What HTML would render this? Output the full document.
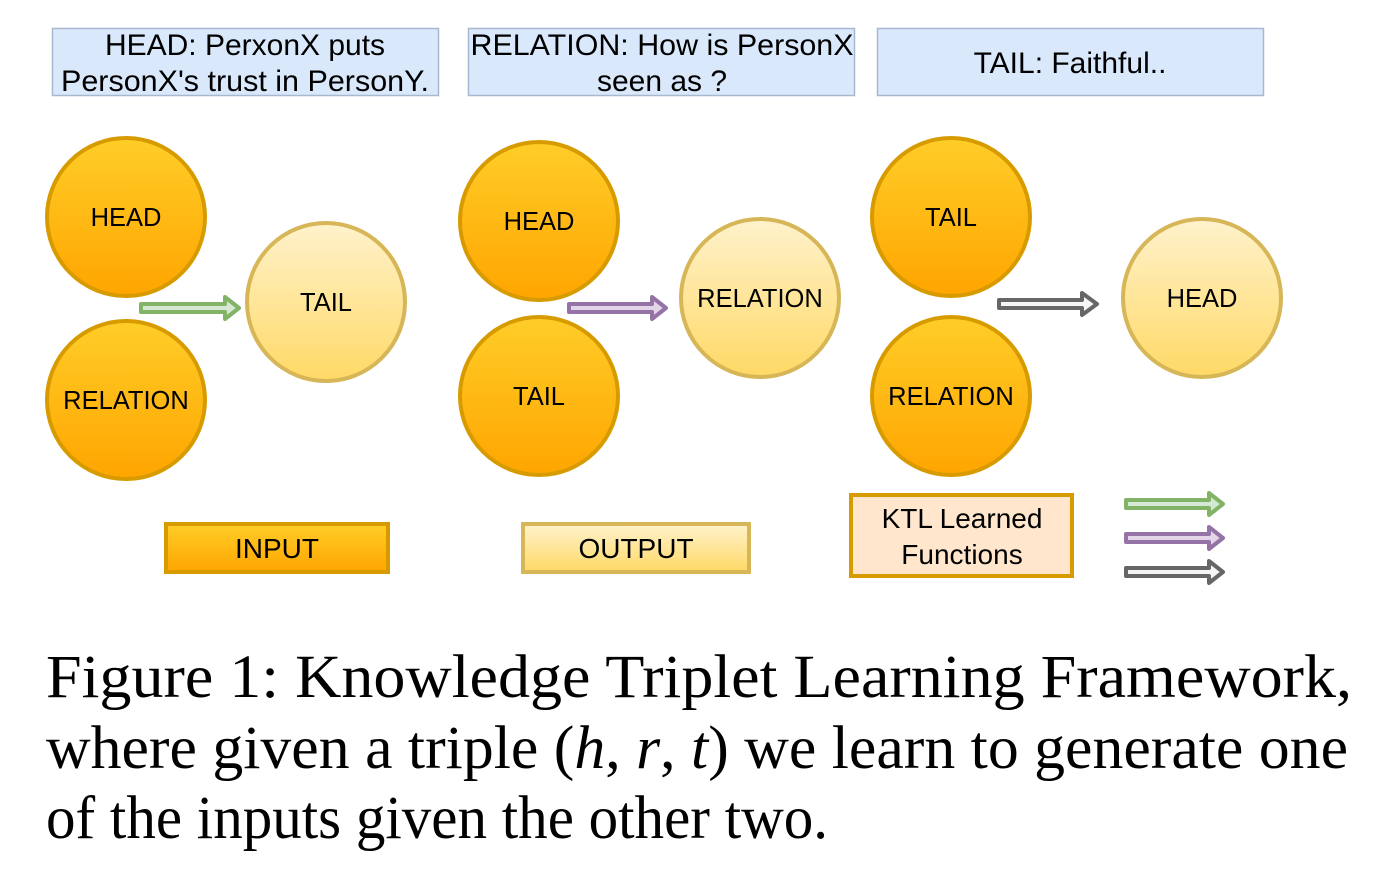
<!DOCTYPE html>
<html><head><meta charset="utf-8"><style>
html,body{margin:0;padding:0;background:#fff;}
svg{display:block;}
</style></head><body>
<svg width="1398" height="888" viewBox="0 0 1398 888" xmlns="http://www.w3.org/2000/svg">
<defs>
<linearGradient id="og" x1="0" y1="0" x2="0" y2="1"><stop offset="0" stop-color="#ffcd28"/><stop offset="1" stop-color="#ffa500"/></linearGradient>
<linearGradient id="lg" x1="0" y1="0" x2="0" y2="1"><stop offset="0" stop-color="#fff2cc"/><stop offset="1" stop-color="#ffd966"/></linearGradient>
</defs>
<g font-family="Liberation Sans, sans-serif" fill="#000">
<rect x="52.5" y="28.5" width="386" height="67" fill="#dae8fc" stroke="#a8b8cf" stroke-width="1.5"/>
<rect x="468.5" y="28.5" width="386" height="67" fill="#dae8fc" stroke="#a8b8cf" stroke-width="1.5"/>
<rect x="877.5" y="28.5" width="386" height="67" fill="#dae8fc" stroke="#a8b8cf" stroke-width="1.5"/>
<g font-size="30" text-anchor="middle">
<text x="245" y="55">HEAD: PerxonX puts</text>
<text x="245" y="91" textLength="368" lengthAdjust="spacingAndGlyphs">PersonX's trust in PersonY.</text>
<text x="662" y="55" textLength="383" lengthAdjust="spacingAndGlyphs">RELATION: How is PersonX</text>
<text x="662" y="91">seen as ?</text>
<text x="1070" y="73">TAIL: Faithful..</text>
</g>
<g stroke-width="4">
<circle cx="126" cy="217" r="79" fill="url(#og)" stroke="#d79b00"/>
<circle cx="126" cy="400" r="79" fill="url(#og)" stroke="#d79b00"/>
<circle cx="326" cy="302" r="79" fill="url(#lg)" stroke="#d6b656"/>
<circle cx="539" cy="221" r="79" fill="url(#og)" stroke="#d79b00"/>
<circle cx="539" cy="396" r="79" fill="url(#og)" stroke="#d79b00"/>
<circle cx="760" cy="298" r="79" fill="url(#lg)" stroke="#d6b656"/>
<circle cx="951" cy="217" r="79" fill="url(#og)" stroke="#d79b00"/>
<circle cx="951" cy="396" r="79" fill="url(#og)" stroke="#d79b00"/>
<circle cx="1202" cy="298" r="79" fill="url(#lg)" stroke="#d6b656"/>
</g>
<g font-size="25.5" text-anchor="middle">
<text x="126" y="226">HEAD</text>
<text x="126" y="409">RELATION</text>
<text x="326" y="311">TAIL</text>
<text x="539" y="230">HEAD</text>
<text x="539" y="405">TAIL</text>
<text x="760" y="307">RELATION</text>
<text x="951" y="226">TAIL</text>
<text x="951" y="405">RELATION</text>
<text x="1202" y="307">HEAD</text>
</g>
<g stroke-width="4" stroke-linejoin="round">
<path d="M141,304 L225,304 L225,297 L239,308 L225,319 L225,312 L141,312 Z" fill="#d5e8d4" stroke="#82b366"/>
<path d="M569,304 L652,304 L652,297 L666,308 L652,319 L652,312 L569,312 Z" fill="#e1d5e7" stroke="#9673a6"/>
<path d="M999,300 L1082,300 L1082,293 L1097,304 L1082,315 L1082,308 L999,308 Z" fill="#f5f5f5" stroke="#666"/>
<path d="M1126,500 L1209,500 L1209,493 L1223,504 L1209,515 L1209,508 L1126,508 Z" fill="#d5e8d4" stroke="#82b366"/>
<path d="M1126,534 L1209,534 L1209,527 L1223,538 L1209,549 L1209,542 L1126,542 Z" fill="#e1d5e7" stroke="#9673a6"/>
<path d="M1126,568 L1209,568 L1209,561 L1223,572 L1209,583 L1209,576 L1126,576 Z" fill="#f5f5f5" stroke="#666"/>
</g>
<rect x="166" y="524" width="222" height="48" fill="url(#og)" stroke="#d79b00" stroke-width="4"/>
<rect x="523" y="524" width="226" height="48" fill="url(#lg)" stroke="#d6b656" stroke-width="4"/>
<rect x="851" y="495" width="221" height="81" fill="#ffe6cc" stroke="#d79b00" stroke-width="4"/>
<g font-size="28" text-anchor="middle">
<text x="277" y="558">INPUT</text>
<text x="636" y="558">OUTPUT</text>
<text x="962" y="528">KTL Learned</text>
<text x="962" y="564">Functions</text>
</g>
</g>
<g font-family="Liberation Serif, serif" font-size="61" fill="#000">
<text x="46" y="697" textLength="1306" lengthAdjust="spacingAndGlyphs">Figure 1:  Knowledge Triplet Learning Framework,</text>
<text x="46" y="768" textLength="1302" lengthAdjust="spacingAndGlyphs">where given a triple (<tspan font-style="italic">h</tspan>, <tspan font-style="italic">r</tspan>, <tspan font-style="italic">t</tspan>) we learn to generate one</text>
<text x="46" y="838" textLength="782" lengthAdjust="spacingAndGlyphs">of the inputs given the other two.</text>
</g>
</svg>
</body></html>
